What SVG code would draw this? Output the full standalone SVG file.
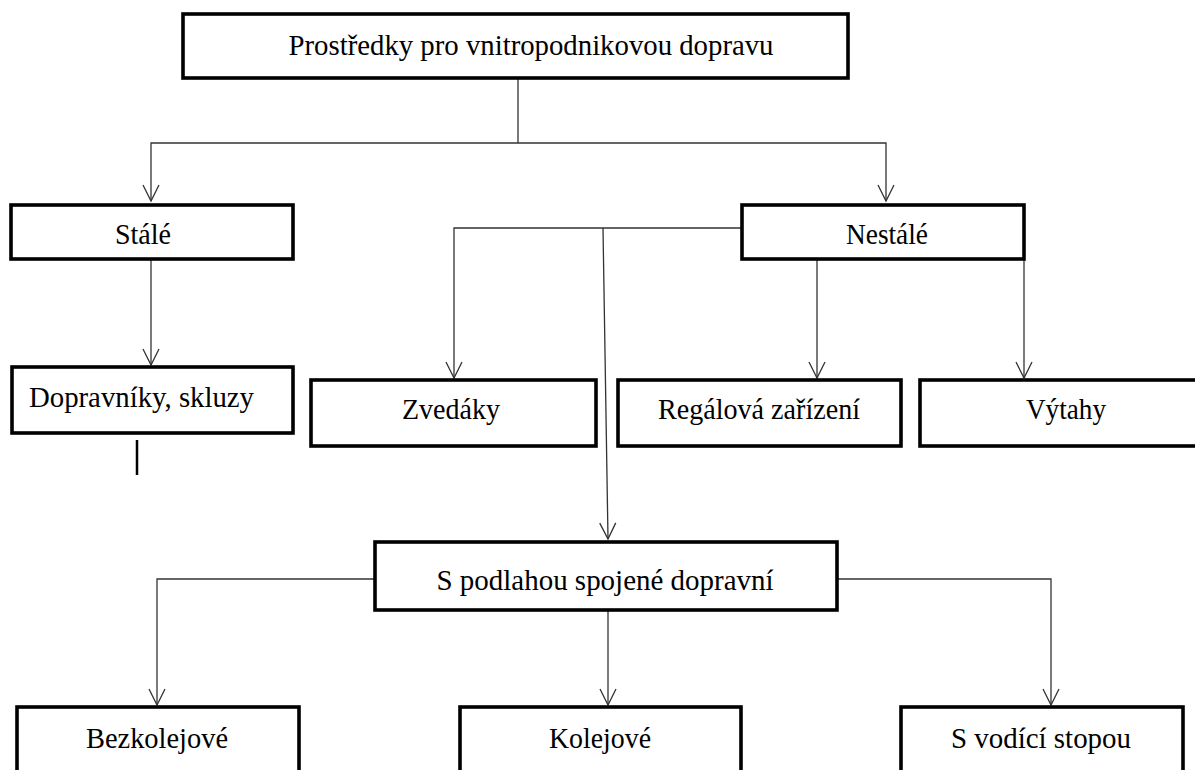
<svg xmlns="http://www.w3.org/2000/svg" width="1195" height="770" viewBox="0 0 1195 770">
<style>
.box{fill:#fff;stroke:#000;stroke-width:3.6}
.lbl{font-family:"Liberation Serif","Times New Roman",serif;font-size:30px;fill:#000;text-anchor:middle}
.con{fill:none;stroke:#333;stroke-width:1.3}
</style>
<defs>
<marker id="arr" markerUnits="userSpaceOnUse" markerWidth="20" markerHeight="20" viewBox="-10 -18 20 20" refX="0" refY="0" orient="auto-start-reverse" overflow="visible">
<path d="M-16,-8 L0,0 L-16,8" fill="none" stroke="#333" stroke-width="1.3"/>
</marker>
</defs>
<rect width="1195" height="770" fill="#fff"/>
<g id="connectors">
<path class="con" d="M518,78 V143"/>
<path class="con" d="M518,143 H151 V201" marker-end="url(#arr)"/>
<path class="con" d="M518,143 H886 V201" marker-end="url(#arr)"/>
<path class="con" d="M151,260 V365" marker-end="url(#arr)"/>
<path class="con" d="M742,228 H454 V378" marker-end="url(#arr)"/>
<path class="con" d="M603,228 L608,539" marker-end="url(#arr)"/>
<path class="con" d="M817,260 V378" marker-end="url(#arr)"/>
<path class="con" d="M1024,260 V378" marker-end="url(#arr)"/>
<path class="con" d="M375,579 H157 V705" marker-end="url(#arr)"/>
<path class="con" d="M608,611 V705" marker-end="url(#arr)"/>
<path class="con" d="M837,579 H1051 V705" marker-end="url(#arr)"/>
<path d="M137,440 V475" stroke="#000" stroke-width="2.5"/>
</g>
<g id="n-root"><rect class="box" x="183" y="14" width="665" height="64"/><text class="lbl" x="531" y="55" textLength="485" lengthAdjust="spacingAndGlyphs">Prostředky pro vnitropodnikovou dopravu</text></g>
<g id="n-stale"><rect class="box" x="11" y="205" width="282" height="54"/><text class="lbl" x="143" y="244" textLength="56" lengthAdjust="spacingAndGlyphs">Stálé</text></g>
<g id="n-nestale"><rect class="box" x="742" y="205" width="282" height="54"/><text class="lbl" x="887" y="244" textLength="82" lengthAdjust="spacingAndGlyphs">Nestálé</text></g>
<g id="n-dopravniky"><rect class="box" x="12" y="367" width="281" height="66"/><text class="lbl" x="29" y="407" style="text-anchor:start" textLength="225" lengthAdjust="spacingAndGlyphs">Dopravníky, skluzy</text></g>
<g id="n-zvedaky"><rect class="box" x="311" y="380" width="285" height="66"/><text class="lbl" x="451" y="419" textLength="98" lengthAdjust="spacingAndGlyphs">Zvedáky</text></g>
<g id="n-regalova"><rect class="box" x="618" y="380" width="283" height="66"/><text class="lbl" x="759" y="419" textLength="202" lengthAdjust="spacingAndGlyphs">Regálová zařízení</text></g>
<g id="n-vytahy"><rect class="box" x="920" y="380" width="300" height="66"/><text class="lbl" x="1066" y="419" textLength="80" lengthAdjust="spacingAndGlyphs">Výtahy</text></g>
<g id="n-podlaha"><rect class="box" x="375" y="542" width="462" height="68"/><text class="lbl" x="605" y="590" textLength="337" lengthAdjust="spacingAndGlyphs">S podlahou spojené dopravní</text></g>
<g id="n-bezkolejove"><rect class="box" x="17" y="707" width="282" height="90"/><text class="lbl" x="157" y="748" textLength="142" lengthAdjust="spacingAndGlyphs">Bezkolejové</text></g>
<g id="n-kolejove"><rect class="box" x="460" y="707" width="281" height="90"/><text class="lbl" x="600" y="748" textLength="102" lengthAdjust="spacingAndGlyphs">Kolejové</text></g>
<g id="n-vodici"><rect class="box" x="901" y="707" width="282" height="90"/><text class="lbl" x="1041" y="748" textLength="180" lengthAdjust="spacingAndGlyphs">S vodící stopou</text></g>
</svg>
